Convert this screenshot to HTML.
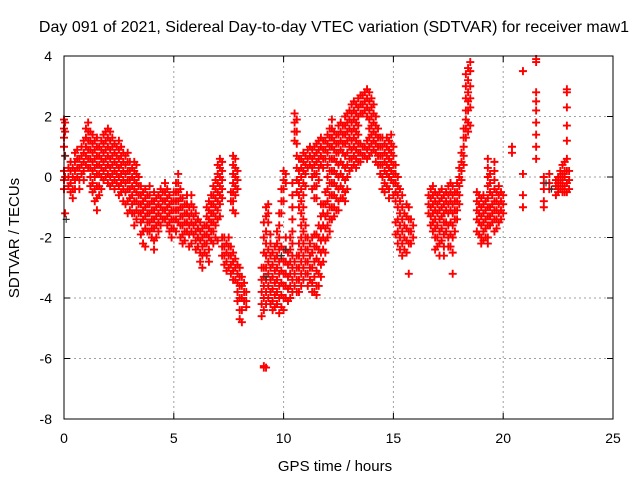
<!DOCTYPE html>
<html><head><meta charset="utf-8"><style>
body{margin:0;background:#fff;}
svg{display:block;font-family:"Liberation Sans",sans-serif;}
</style></head><body>
<svg id="chart" width="640" height="480" viewBox="0 0 640 480" xmlns="http://www.w3.org/2000/svg">
<rect x="0" y="0" width="640" height="480" fill="#fff"/>
<text x="334" y="32" font-size="16" text-anchor="middle" fill="#000">Day 091 of 2021, Sidereal Day-to-day VTEC variation (SDTVAR) for receiver maw1</text>
<g id="grid"></g>
<g id="ticks"></g>
<g id="marks"></g>
<rect x="64" y="56" width="549" height="363" fill="none" stroke="#000" stroke-width="1"/>
<text x="335" y="471" font-size="15" text-anchor="middle">GPS time / hours</text>
<text transform="translate(19,238) rotate(-90)" font-size="15" text-anchor="middle">SDTVAR / TECUs</text>
</svg>
<script>
const xTicks=[0,5,10,15,20,25];
const yTicks=[4,2,0,-2,-4,-6,-8];
const sampleHours=[0.0,0.05,0.2,0.3,0.4,0.5,0.6,0.7,0.8,0.9,1.0,1.1,1.2,1.3,1.4,1.5,1.6,1.7,1.8,1.9,2.0,2.1,2.2,2.3,2.4,2.5,2.6,2.7,2.8,2.9,3.0,3.1,3.2,3.3,3.4,3.5,3.6,3.7,3.8,3.9,4.0,4.1,4.2,4.3,4.4,4.5,4.6,4.7,4.8,4.9,5.0,5.1,5.2,5.3,5.4,5.5,5.6,5.7,5.8,5.9,6.0,6.1,6.2,6.3,6.4,6.5,6.6,6.7,6.8,6.9,7.0,7.1,7.2,7.3,7.4,7.5,7.6,7.7,7.8,7.9,8.0,8.1,8.2,8.3,9.0,9.1,9.2,9.3,9.4,9.5,9.6,9.7,9.8,9.9,10.0,10.1,10.2,10.3,10.4,10.5,10.6,10.7,10.8,10.9,11.0,11.1,11.2,11.3,11.4,11.5,11.6,11.7,11.8,11.9,12.0,12.1,12.2,12.3,12.4,12.5,12.6,12.7,12.8,12.9,13.0,13.1,13.2,13.3,13.4,13.5,13.6,13.7,13.8,13.9,14.0,14.1,14.2,14.3,14.4,14.5,14.6,14.7,14.8,14.9,15.0,15.1,15.2,15.3,15.4,15.5,15.6,15.7,15.8,15.9,16.6,16.7,16.8,16.9,17.0,17.1,17.2,17.3,17.4,17.5,17.6,17.7,17.8,17.9,18.0,18.1,18.2,18.3,18.4,18.5,18.8,18.9,19.0,19.1,19.2,19.3,19.4,19.5,19.6,19.7,19.8,19.9,20.0,20.4,20.9,21.5,21.85,22.1,22.4,22.5,22.6,22.7,22.8,22.9,23.0];
const sampleValues=[
[1.9,1.6,1.3,1.0,0.2,-0.1,-0.4],[1.8,1.5,0.7,0,-1.2],[0.3,0,-0.3],[0.5,0.2,-0.2,-0.5],[0.3,0,-0.4,-0.7],[0.8,0.5,0.2,-0.1,-0.4],[0.9,0.6,0.3,0],[0.6,0.3,-0.1,-0.4],[1.0,0.7,0.4,0.1],[1.2,0.8,0.5,0.2,-0.1],
[1.6,1.3,1.0,0.7,0.4],[1.8,1.5,1.2,0.9,0.6,0.3],[1.5,1.2,0.9,0.6,0.3,0,-0.3],[1.4,1.1,0.8,0.5,0.2,-0.2,-0.5],[1.2,0.9,0.6,0.3,0,-0.4,-0.8],[1.3,1.0,0.7,0.4,0.1,-0.3,-0.7,-1.1],[1.0,0.7,0.4,0.1,-0.3,-0.6],[1.2,0.9,0.6,0.3,0,-0.4],[1.4,1.1,0.8,0.5,0.2,-0.1],[1.5,1.2,0.9,0.6,0.3,0],
[1.6,1.3,1.0,0.7,0.4,0.1,-0.2],[1.5,1.2,0.9,0.6,0.3,0,-0.3],[1.3,1.0,0.7,0.4,0.1,-0.2],[1.1,0.8,0.5,0.2,-0.1,-0.4],[1.0,0.7,0.4,0.1,-0.2],[1.2,0.9,0.6,0.3,0,-0.3,-0.6],[1.0,0.7,0.4,0.1,-0.2,-0.5],[0.8,0.5,0.2,-0.1,-0.4,-0.8],[0.7,0.4,0.1,-0.2,-0.5,-0.9],[0.8,0.5,0.2,-0.1,-0.4,-0.8,-1.2],
[0.5,0.2,-0.1,-0.4,-0.7,-1.1],[0.3,0,-0.3,-0.6,-0.9,-1.2],[0.5,0.2,-0.1,-0.4,-0.8,-1.2,-1.6],[0.4,0.1,-0.2,-0.5,-0.8,-1.1,-1.4],[0,-0.3,-0.6,-0.9,-1.2],[-0.3,-0.6,-0.9,-1.2,-1.5,-1.9],[-0.5,-0.8,-1.1,-1.4,-1.8,-2.2],[-0.4,-0.7,-1.0,-1.3,-1.7,-2.3],[-0.6,-0.9,-1.2,-1.5,-1.8],[-0.3,-0.6,-0.9,-1.2,-1.5,-1.8],
[-0.8,-1.1,-1.4,-1.7,-2.0],[-0.5,-0.8,-1.1,-1.4,-1.7,-2.1,-2.4],[-0.7,-1.0,-1.3,-1.6,-2.0],[-0.6,-0.9,-1.2,-1.5,-1.8],[-0.4,-0.7,-1.0,-1.3,-1.6],[-0.5,-0.8,-1.1,-1.4],[-0.2,-0.5,-0.8,-1.1,-1.4],[-0.4,-0.7,-1.0,-1.3,-1.6],[-0.6,-0.9,-1.2,-1.5,-1.8],[-0.8,-1.1,-1.4,-1.7,-2.0],
[-0.5,-0.8,-1.1,-1.4,-1.7],[-0.2,-0.5,-0.8,-1.1,-1.4,-1.8],[0.1,-0.2,-0.5,-0.8,-1.1,-1.5],[-0.4,-0.7,-1.0,-1.3,-1.6,-2.0],[-0.7,-1.0,-1.3,-1.6,-1.9,-2.2],[-0.9,-1.2,-1.5,-1.8,-2.1],[-0.6,-0.9,-1.2,-1.5,-1.8],[-1.0,-1.3,-1.6,-1.9,-2.3],[-0.6,-0.9,-1.2,-1.5,-1.8,-2.2],[-1.0,-1.3,-1.6,-1.9],
[-1.2,-1.5,-1.8,-2.1,-2.4],[-1.4,-1.7,-2.0,-2.3],[-1.5,-1.8,-2.1,-2.5,-2.8],[-1.7,-2.0,-2.3,-2.6,-3.0],[-1.6,-1.9,-2.2,-2.5],[-1.0,-1.3,-1.6,-1.9,-2.2,-2.6],[-0.8,-1.1,-1.4,-1.7,-2.0,-2.4,-2.8],[-0.6,-0.9,-1.2,-1.5,-1.8,-2.1],[-0.3,-0.6,-0.9,-1.2,-1.5,-1.8,-2.2],[-0.1,-0.4,-0.7,-1.0,-1.3,-1.6,-2.0],
[0.4,0.1,-0.2,-0.5,-0.8,-1.1,-1.4,-2.1],[0.6,0.3,0,-0.3,-0.6,-0.9,-1.3],[0.5,0.2,-0.1,-0.4,-0.7,-2.0,-2.3,-2.6],[-2.0,-2.3,-2.6,-2.9],[-2.2,-2.5,-2.8,-3.1],[-2.0,-2.3,-2.6,-3.0],[-0.5,-0.8,-2.3,-2.6,-2.9,-3.2],[0.7,0.4,0.1,-0.2,-0.5,-0.8,-1.1,-2.5,-2.8,-3.1,-3.4],[0.6,0.3,0,-0.3,-0.6,-1.2,-2.7,-3.0,-3.4],[0.2,-0.1,-0.4,-2.9,-3.2,-3.5,-3.8,-4.1],
[-3.0,-3.3,-3.6,-4.0,-4.4,-4.7],[-3.3,-3.6,-4.0,-4.4,-4.8],[-3.5,-3.8,-4.1],[-3.8,-4.1,-4.3],
[-3.0,-3.4,-3.8,-4.2,-4.6],[-1.5,-2.0,-2.5,-3.0,-3.3,-3.6,-4.0,-4.4,-6.3,-6.25],[-1.0,-1.3,-1.8,-2.2,-2.6,-3.0,-3.4,-3.8,-4.2,-6.3],[-0.9,-1.2,-1.5,-2.4,-2.8,-3.2,-3.6,-4.0],[-1.9,-2.2,-2.6,-3.0,-3.4,-3.8,-4.2],[-2.5,-2.9,-3.3,-3.7,-4.1,-4.4],[-2.3,-2.7,-3.1,-3.5,-3.9,-4.3],[-1.8,-2.2,-2.6,-3.0,-3.4,-3.8,-4.2],[-1.2,-1.6,-2.0,-2.4,-2.8,-3.2,-3.6,-4.0,-4.5],[-0.4,-0.8,-1.2,-2.3,-2.7,-3.1,-3.5,-3.9,-4.3],
[0.2,-0.1,-0.4,-0.8,-2.4,-2.8,-3.2,-3.6,-4.0,-4.4],[0.1,-0.2,-2.0,-2.4,-2.8,-3.2,-3.6,-4.0],[-2.5,-2.9,-3.3,-3.7,-4.1],[-2.0,-2.4,-2.8,-3.2,-3.6,-4.0],[-0.2,-0.6,-1.0,-1.4,-1.8,-2.2,-2.6,-3.0,-3.4,-3.8],[2.1,1.8,1.5,1.2,-2.8,-3.2,-3.6],[1.9,1.5,1.1,0.7,0.3,-0.1,-0.5,-2.6,-3.0,-3.4,-3.8],[0.6,0.2,-0.2,-0.6,-1.0,-2.2,-2.6,-3.0,-3.4,-3.8],[0.6,0.3,0,-0.4,-0.8,-1.2,-1.6,-2.0,-2.4,-2.8,-3.2,-3.6],[0.8,0.5,0.2,-0.2,-0.6,-1.0,-1.4,-1.8,-2.2,-2.6,-3.0,-3.4],
[0.7,0.4,0.1,-0.3,-1.6,-2.0,-2.4,-2.8,-3.2],[0.9,0.6,0.3,-2.0,-2.4,-2.8,-3.2,-3.6],[1.0,0.7,0.4,-2.2,-2.6,-3.0,-3.4],[0.9,0.6,0.3,0,-0.4,-2.0,-2.5,-3.0,-3.5,-3.8],[1.0,0.7,0.4,0.1,-0.3,-0.7,-1.9,-2.3,-2.8,-3.3,-3.8],[1.1,0.8,0.5,0.1,-0.3,-0.7,-1.9,-2.3,-2.7,-3.1,-3.6,-3.9],[1.2,0.9,0.6,0.3,-0.1,-1.6,-2.0,-2.4,-2.8,-3.2,-3.6],[1.3,1.0,0.7,0.4,-0.9,-1.3,-1.7,-2.1,-2.5,-2.9,-3.3],[1.2,0.9,0.6,0.3,-0.9,-1.2,-1.6,-2.0,-2.4,-2.8],[1.2,0.9,0.6,-0.5,-0.9,-1.3,-1.7,-2.1,-2.5],
[1.4,1.1,0.8,0.4,0,-0.4,-0.8,-1.2,-1.6,-2.0],[1.6,1.3,1.0,0.6,0.2,-0.2,-0.6,-1.0,-1.4,-1.8],[1.9,1.6,1.3,1.0,0.6,0.2,-0.2,-0.6,-1.0,-1.4],[1.5,1.2,0.9,0.6,0.2,-0.2,-0.6,-1.0,-1.3],[1.4,1.1,0.8,0.5,0.1,-0.3,-0.7,-1.1],[1.7,1.4,1.1,0.8,0.4,0,-0.4,-0.8,-1.1],[1.8,1.5,1.2,0.9,0.5,0.1,-0.3,-0.7],[1.7,1.4,1.1,0.8,0.4,0,-0.4,-0.7],[2.0,1.7,1.4,1.1,0.7,0.3,-0.1,-0.5,-0.8],[2.1,1.8,1.5,1.2,0.8,0.4,0,-0.4],
[2.2,1.9,1.6,1.3,1.0,0.6,0.2],[2.4,2.1,1.8,1.5,1.2,0.9,0.6,0.3],[2.5,2.2,1.9,1.6,1.3,1.0,0.7,0.4],[2.4,2.1,1.8,1.5,1.2,0.9,0.6,0.3],[2.6,2.3,2.0,1.7,1.4,1.1,0.8,0.5],[2.7,2.4,2.1,1.1,0.8,0.5],[2.7,2.4,2.1,1.0,0.7],[2.8,2.5,2.2,1.0,0.7],[2.9,2.6,2.3,2.0,1.2,0.9,0.6],[2.8,2.5,2.2,1.9,1.6,1.3,1.0,0.7],
[2.6,2.3,2.0,1.7,1.4,1.1,0.8],[2.4,2.1,1.8,1.5,1.2,0.9],[2.0,1.7,1.4,1.1,0.8,0.5],[1.6,1.3,1.0,0.7,0.4],[1.3,1.0,0.7,0.4,0.1],[1.3,1.0,0.7,0.4,0,-0.4],[1.1,0.8,0.5,0.2,-0.2,-0.5],[1.3,1.0,0.7,0.4,0.1,-0.3],[1.2,0.9,0.6,0.3,0,-0.4,-0.7],[1.4,1.1,0.8,0.5,0.2,-0.1],
[1.0,0.7,0.4,0.1,-0.2,-0.6],[0.4,0.1,-0.2,-0.5,-0.8,-1.5,-1.9],[0,-0.3,-0.6,-1.0,-1.4,-1.8,-2.2],[-0.4,-0.8,-1.2,-1.6,-2.0,-2.4],[-0.6,-1.0,-1.4,-1.8,-2.2,-2.6],[-1.2,-1.6,-2.0,-2.4],[-0.9,-1.3,-1.7,-2.1,-2.5],[-1.0,-1.4,-1.8,-2.2,-3.2],[-1.4,-1.8,-2.2],[-1.6,-2.0],
[-0.6,-0.9,-1.2],[-0.4,-0.7,-1.0,-1.3,-1.6],[-0.3,-0.6,-0.9,-1.2,-1.5,-1.8],[-0.5,-0.8,-1.1,-1.4,-1.7,-2.0,-2.4],[-0.6,-0.9,-1.2,-1.6,-2.0,-2.3],[-0.5,-0.8,-1.1,-1.4,-1.8,-2.2,-2.6],[-0.4,-0.7,-1.0,-1.3,-1.7,-2.1],[-0.6,-0.9,-1.2,-1.5,-1.9,-2.3,-2.6],[-0.5,-0.8,-1.1,-1.5,-1.8],[-0.3,-0.6,-0.9,-1.2,-1.6,-2.0,-2.3],
[-0.2,-0.5,-0.8,-1.1,-1.5,-1.9,-2.3],[-0.3,-0.6,-0.9,-1.2,-1.6,-2.0,-2.5,-3.2],[-0.5,-0.8,-1.1,-1.4,-1.8],[-0.2,-0.5,-0.8,-1.1,-1.4],[0.3,0,-0.3,-0.6,-0.9],[0.8,0.5,0.2,-0.1],[1.6,1.3,1.0,0.7,0.4],[3.4,3.0,2.6,2.2,1.9,1.6,1.3],[3.6,3.2,2.8,2.5,2.2,1.8,1.5],[3.8,3.5,3.0,2.6,2.3,1.7],
[-0.5,-0.8,-1.1,-1.4,-1.8],[-0.6,-0.9,-1.2,-1.5,-1.9],[-0.7,-1.0,-1.3,-1.6,-2.0,-2.2],[-0.6,-0.9,-1.2,-1.5,-1.8,-2.1],[-0.8,-1.1,-1.4,-1.7,-2.0],[0.6,0.3,0,-0.3,-0.7,-1.0,-1.3,-1.6,-2.0,-2.2],[0.1,-0.2,-0.5,-1.0,-1.3,-1.6],[-0.6,-0.9,-1.2,-1.5],[0.5,0.2,-0.1,-0.4,-0.8,-1.1,-1.4,-1.8],[-0.5,-0.8,-1.1,-1.4,-1.7],
[-0.3,-0.6,-0.9,-1.2,-1.5],[-0.5,-0.8,-1.1,-1.4],[-0.6,-0.9,-1.2],
[1.0,0.8],[3.5,0.1,-0.6,-1.0],[3.9,3.8,2.8,2.5,2.2,1.8,1.4,1.0,0.6],[0.0,-0.2,-0.4,-0.8,-1.0],[-0.4,-0.2,0.1],[-0.1,-0.3,-0.6],[0.0,-0.2,-0.4,-0.5],[0.2,0,-0.2,-0.4],[0.4,0.1,-0.1,-0.3,-0.5],[0.5,0.2,0,-0.3,-0.5],[2.9,2.8,2.3,1.7,1.2,0.6,0.2,-0.2,-0.5],[0.2,-0.1,-0.4]
];
const darkHours=[0.05,0.1,9.2,9.9,10.1,21.95,22.2];
const darkValues=[0.7,-1.4,-3.3,-2.6,-2.4,-0.2,-0.4];

const X0=64,X1=613,Y0=419,Y1=56,XMIN=0,XMAX=25,YMIN=-8,YMAX=4;
const xs=t=>X0+(t-XMIN)/(XMAX-XMIN)*(X1-X0);
const ys=v=>Y0-(v-YMIN)/(YMAX-YMIN)*(Y0-Y1);
const NS="http://www.w3.org/2000/svg";
const grid=document.getElementById('grid'),ticks=document.getElementById('ticks'),marks=document.getElementById('marks');
function mk(tag,attrs,parent){const e=document.createElementNS(NS,tag);for(const k in attrs)e.setAttribute(k,attrs[k]);parent.appendChild(e);return e;}
xTicks.forEach(t=>{
  const x=xs(t);
  if(t>XMIN&&t<XMAX){const g=mk('line',{x1:x,x2:x,y1:Y1,y2:Y0,stroke:'#a0a0a0','stroke-dasharray':'2,3'},grid);
  
  }
  const tk=mk('path',{d:`M${x},${Y0}v-6M${x},${Y1}v6`,stroke:'#000'},ticks);
  
  
  const lb=mk('text',{x:x,y:443,'font-size':14,'text-anchor':'middle'},ticks);lb.textContent=t;
  
  
});
yTicks.forEach(v=>{
  const y=ys(v);
  if(v>YMIN&&v<YMAX){const g=mk('line',{x1:X0,x2:X1,y1:y,y2:y,stroke:'#a0a0a0','stroke-dasharray':'2,3'},grid);
  
  }
  const tk=mk('path',{d:`M${X0},${y}h6M${X1},${y}h-6`,stroke:'#000'},ticks);
  
  
  const lb=mk('text',{x:52,y:y+5,'font-size':14,'text-anchor':'end'},ticks);lb.textContent=v;
  
  
});
let d='';
sampleHours.forEach((t,i)=>{(sampleValues[i]||[]).forEach(v=>{const x=xs(t),y=ys(v);d+=`M${x-4},${y}h8M${x},${y-4}v8`;});});
const p=mk('path',{d:d,stroke:'#ff0000','stroke-width':1.9,fill:'none'},marks);


let d2='';
darkHours.forEach((t,i)=>{const x=xs(t),y=ys(darkValues[i]);d2+=`M${x-3.5},${y}h7M${x},${y-3.5}v7`;});
const p2=mk('path',{d:d2,stroke:'#333','stroke-width':1.2,fill:'none'},marks);


</script>
</body></html>
